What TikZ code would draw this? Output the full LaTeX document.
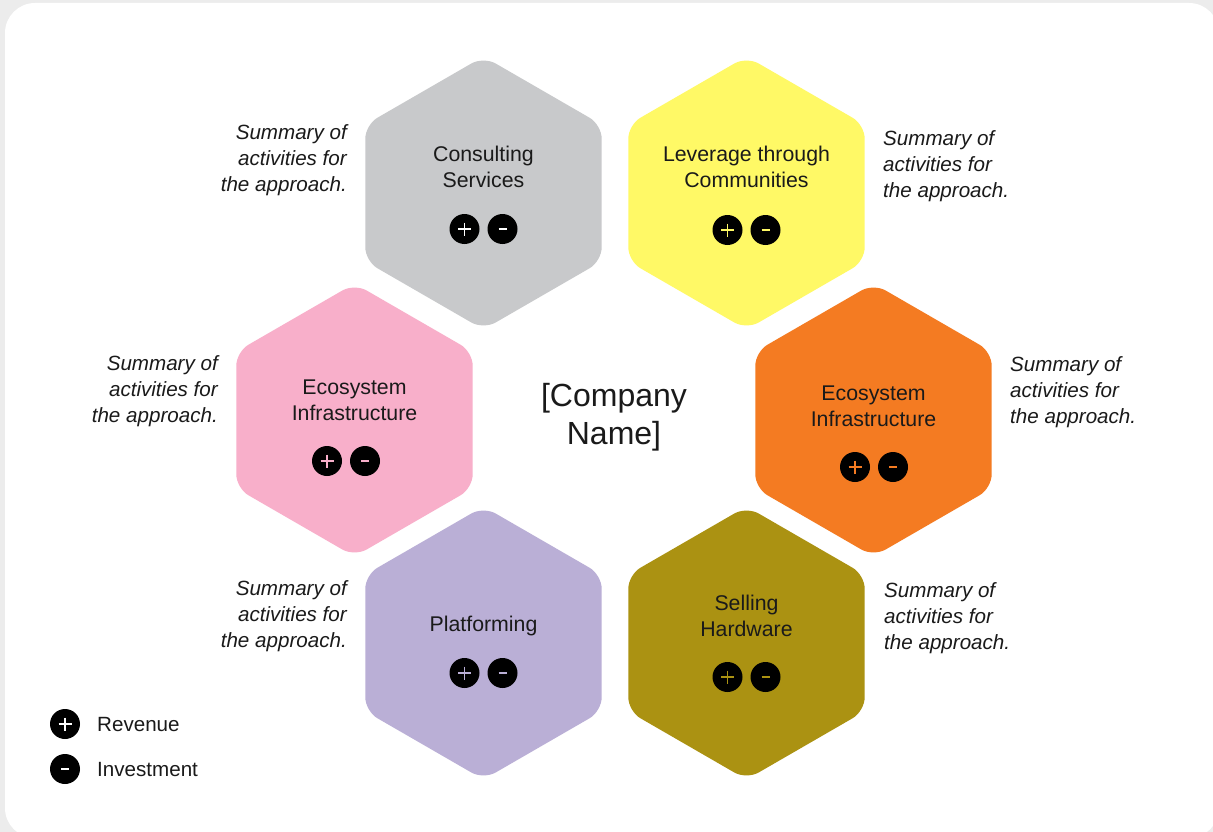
\documentclass[tikz,border=0pt]{standalone}
\usepackage{fontspec}
\setmainfont{Liberation Sans}
\usetikzlibrary{shapes.geometric}
\definecolor{cgray}{HTML}{C8C9CB}
\definecolor{cyellow}{HTML}{FFF966}
\definecolor{cpink}{HTML}{F8AFCA}
\definecolor{corange}{HTML}{F47B22}
\definecolor{cpurple}{HTML}{BAAFD6}
\definecolor{colive}{HTML}{AB9212}
\definecolor{cframe}{HTML}{ECECEC}
\definecolor{ctext}{HTML}{1A1A1A}
\newcommand\pmicons[4]{%
  \node[ico] (#1p) at (#2-19,#3) {};
  \draw[#4, sym] (#1p.center) ++(-6.5,0) -- ++(13,0) (#1p.center) ++(0,-6.5) -- ++(0,13);
  \node[ico] (#1m) at (#2+19,#3) {};
  \draw[#4, sym] (#1m.center) ++(-4,0) -- ++(8,0);
}
\tikzset{
  hex/.style={regular polygon, regular polygon sides=6, shape border rotate=30,
    minimum size=273pt, inner sep=0pt, outer sep=0pt, rounded corners=14pt},
  ico/.style={circle, fill=black, minimum size=30pt, inner sep=0pt},
  sym/.style={line width=1.7pt},
  hlabel/.style={text=ctext, align=center, font=\fontsize{21.3}{26}\selectfont},
  summ/.style={text=ctext, inner sep=0pt, font=\fontsize{20.6}{25.8}\selectfont\itshape},
  sumL/.style={summ, align=right, anchor=east},
  sumR/.style={summ, align=left, anchor=west},
  leg/.style={text=ctext, anchor=west, inner sep=0pt, font=\fontsize{20.6}{24}\selectfont},
}
\begin{document}
\begin{tikzpicture}[x=1pt, y=-1pt]
\useasboundingbox (0,0) rectangle (1213,832);
\fill[cframe] (0,0) rectangle (1213,832);
\fill[white, rounded corners=30pt] (5,3) rectangle (1219,838);

% hexagons
\node[hex, fill=cgray]   (cons) at (483.5,193) {};
\node[hex, fill=cyellow] (lev)  at (746.5,193) {};
\node[hex, fill=cpink]   (ecoL) at (354.5,420) {};
\node[hex, fill=corange] (ecoR) at (873.5,420) {};
\node[hex, fill=cpurple] (plat) at (483.5,643) {};
\node[hex, fill=colive]  (sell) at (746.5,643) {};

% hexagon labels
\node[hlabel] (consT) at (483.5,167) {Consulting\\Services};
\node[hlabel] (levT)  at (746.5,167) {Leverage through\\Communities};
\node[hlabel] (ecoLT) at (354.5,400) {Ecosystem\\Infrastructure};
\node[hlabel] (ecoRT) at (873.5,406) {Ecosystem\\Infrastructure};
\node[hlabel] (platT) at (483.5,626) {Platforming};
\node[hlabel] (sellT) at (746.5,616) {Selling\\Hardware};

% icons
\pmicons{consI}{483.5}{229}{white}
\pmicons{levI}{746.5}{230}{cyellow}
\pmicons{ecoLI}{346}{461}{cpink}
\pmicons{ecoRI}{874}{467}{corange}
\pmicons{platI}{483.5}{673}{cpurple}
\pmicons{sellI}{746.5}{677}{colive}

% centre
\node[text=ctext, align=center, font=\fontsize{32}{38}\selectfont] (comp) at (614,417) {[Company\\Name]};

% summaries
\node[sumL] (consS) at (347,160) {Summary of\\activities for\\the approach.};
\node[sumR] (levS)  at (883,166) {Summary of\\activities for\\the approach.};
\node[sumL] (ecoLS) at (218,391) {Summary of\\activities for\\the approach.};
\node[sumR] (ecoRS) at (1010,392) {Summary of\\activities for\\the approach.};
\node[sumL] (platS) at (347,616) {Summary of\\activities for\\the approach.};
\node[sumR] (sellS) at (884,618) {Summary of\\activities for\\the approach.};

% legend
\node[ico] (legP) at (65,724) {};
\draw[white, sym] (legP.center) ++(-6.5,0) -- ++(13,0) (legP.center) ++(0,-6.5) -- ++(0,13);
\node[leg] (legPT) at (97,725) {Revenue};
\node[ico] (legM) at (65,769) {};
\draw[white, sym] (legM.center) ++(-4,0) -- ++(8,0);
\node[leg] (legMT) at (97,770) {Investment};
\end{tikzpicture}
\end{document}
